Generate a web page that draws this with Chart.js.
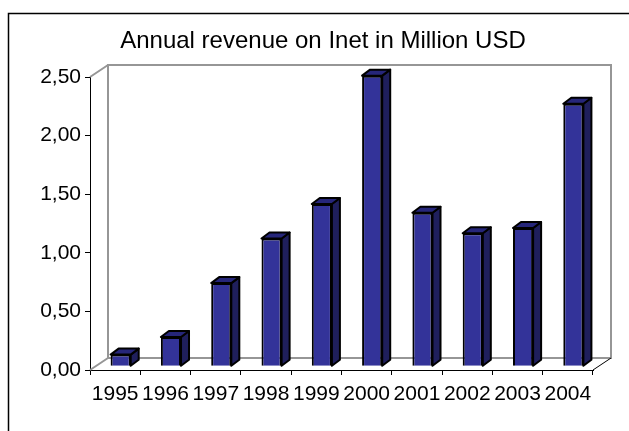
<!DOCTYPE html>
<html lang="en">
<head>
<meta charset="UTF-8">
<title>Annual revenue on Inet in Million USD</title>
<style>
html, body { margin: 0; padding: 0; background: #fff; overflow: hidden; }
canvas { display: block; }
</style>
</head>
<body>
<canvas id="revenueChart" width="629" height="431"></canvas>
<script src="https://cdn.jsdelivr.net/npm/chart.js"></script>
<script>
const years = ['1995','1996','1997','1998','1999','2000','2001','2002','2003','2004'];
const revenue = [0.10, 0.25, 0.71, 1.09, 1.385, 2.48, 1.31, 1.135, 1.18, 2.24];
const yTicks = [0, 0.5, 1, 1.5, 2, 2.5];

// excel style fake 3d: how far the back wall and the bars sit behind the axes
const wallDepth = { x: 18, y: -12 };
const barShift = { x: 5.5, y: -3.7 };
const barDepth = { x: 8, y: -6 };

function poly(ctx, pts, fill) {
    ctx.beginPath();
    pts.forEach((p, i) => i ? ctx.lineTo(p[0], p[1]) : ctx.moveTo(p[0], p[1]));
    ctx.closePath();
    ctx.fillStyle = fill;
    ctx.fill();
    ctx.stroke();
}

const frame = {
    id: 'frame',
    // title is not centred on the canvas in the original, nudge it over
    afterLayout(chart) {
        chart.titleBlock.left += 26.5;
        chart.titleBlock.right += 26.5;
    },
    beforeDraw(chart) {
        const ctx = chart.ctx;
        ctx.save();
        ctx.strokeStyle = '#000';
        ctx.lineWidth = 1.5;
        ctx.beginPath();
        ctx.moveTo(8.5, 431);
        ctx.lineTo(8.5, 13.5);
        ctx.lineTo(629, 13.5);
        ctx.stroke();
        ctx.restore();
    }
};

const wall = {
    id: 'wall',
    beforeDatasetsDraw(chart) {
        const ctx = chart.ctx, a = chart.chartArea;
        const l = a.left + wallDepth.x, r = a.right + wallDepth.x;
        const t = a.top + wallDepth.y, b = a.bottom + wallDepth.y;
        ctx.save();
        ctx.strokeStyle = '#969696';
        ctx.lineWidth = 2;
        ctx.strokeRect(l, t, r - l, b - t);
        ctx.beginPath();
        ctx.moveTo(a.left, a.top); ctx.lineTo(l, t);
        ctx.moveTo(a.left, a.bottom); ctx.lineTo(l, b);
        ctx.stroke();
        ctx.strokeStyle = '#000';
        ctx.lineWidth = 1;
        ctx.beginPath();
        ctx.moveTo(a.right, a.bottom); ctx.lineTo(r, b);
        ctx.stroke();
        ctx.restore();
    }
};

const bars3d = {
    id: 'bars3d',
    beforeDatasetDraw(chart) {
        const ctx = chart.ctx;
        ctx.save();
        ctx.translate(barShift.x, barShift.y);
        ctx.strokeStyle = '#000';
        ctx.lineWidth = 2;
        ctx.lineJoin = 'round';
        chart.getDatasetMeta(0).data.forEach(bar => {
            const l = bar.x - bar.width / 2, r = bar.x + bar.width / 2;
            const t = bar.y, b = bar.base;
            const dx = barDepth.x, dy = barDepth.y;
            poly(ctx, [[r, t], [r + dx, t + dy], [r + dx, b + dy], [r, b]], '#1f1f5c');
            poly(ctx, [[l, t], [l + dx, t + dy], [r + dx, t + dy], [r, t]], '#26267a');
        });
    },
    afterDatasetDraw(chart) {
        chart.ctx.restore();
    }
};

new Chart(document.getElementById('revenueChart'), {
    type: 'bar',
    data: {
        labels: years,
        datasets: [{
            data: revenue,
            backgroundColor: '#333399',
            borderColor: '#000',
            borderWidth: 2,
            barPercentage: 0.4,
            categoryPercentage: 1
        }]
    },
    plugins: [frame, wall, bars3d],
    options: {
        responsive: false,
        animation: false,
        layout: { padding: { right: 36 } },
        plugins: {
            legend: { display: false },
            tooltip: { enabled: false },
            title: {
                display: true,
                text: 'Annual revenue on Inet in Million USD',
                color: '#000',
                font: { family: 'Liberation Sans', size: 24, weight: 'normal' },
                padding: { top: 27, bottom: 21.2 }
            }
        },
        scales: {
            x: {
                grid: { drawOnChartArea: false, color: '#000', tickLength: 5 },
                border: { color: '#000' },
                ticks: {
                    color: '#000',
                    maxRotation: 0,
                    autoSkip: false,
                    padding: 7,
                    font: { family: 'Liberation Sans', size: 21 }
                },
                afterFit: s => { s.height = 61; }
            },
            y: {
                min: 0,
                max: 2.5,
                afterBuildTicks: s => { s.ticks = yTicks.map(v => ({ value: v })); },
                grid: { drawOnChartArea: false, color: '#000', tickLength: 5 },
                border: { color: '#000' },
                ticks: {
                    color: '#000',
                    padding: 4,
                    font: { family: 'Liberation Sans', size: 21 },
                    callback: v => v.toFixed(2).replace('.', ',')
                },
                afterFit: s => { s.width = 90; }
            }
        }
    }
});
</script>
</body>
</html>
